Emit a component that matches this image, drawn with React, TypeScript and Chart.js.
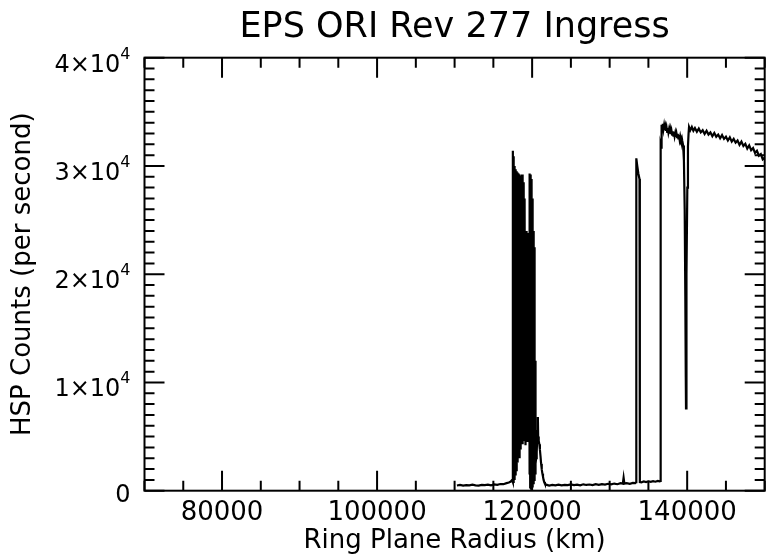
import React, { useEffect, useRef } from 'react';
import { Chart, registerables } from 'chart.js';

Chart.register(...registerables);

const FONT = 'DejaVu Sans';
const TITLE = 'EPS ORI Rev 277 Ingress';
const X_TITLE = 'Ring Plane Radius (km)';
const Y_TITLE = 'HSP Counts (per second)';

const X_MIN = 70000;
const X_MAX = 150000;
const X_TICKS = [80000, 100000, 120000, 140000];
const X_MAJOR_STEP = 20000;
const X_MINOR_STEP = 5000;
const Y_MIN = 0;
const Y_MAX = 40000;
const Y_STEP = 10000;
const Y_MINOR_STEP = 1000;
const Y_EXPONENT = 4;

// inner baseline (B ring, opaque)
const innerRadius = [110300, 110700, 111100, 111500, 111900, 112300, 112700, 113100, 113500, 113900, 114300, 114700, 115100, 115500, 115900, 116300, 116700, 117000, 117250, 117420];
const innerCounts = [480, 540, 470, 520, 490, 560, 500, 470, 540, 510, 560, 500, 580, 540, 620, 600, 700, 760, 850, 1000];

// Cassini division region, dense ringlet structure
const cassiniRadius = [
  117500, 117530, 117560, 117590, 117620, 117650, 117680, 117710, 117740, 117770,
  117800, 117830, 117860, 117890, 117920, 117950, 117980, 118010, 118040, 118070,
  118100, 118130, 118160, 118190, 118220, 118250, 118280, 118310, 118340, 118370,
  118400, 118430, 118460, 118490, 118520, 118550, 118580, 118610, 118640, 118670,
  118700, 118730, 118760, 118790, 118820, 118850, 118880, 118910, 118940, 118970,
  119000, 119030, 119060, 119090, 119120, 119150, 119180, 119210, 119240, 119270,
  119300, 119330, 119360, 119390, 119420, 119450, 119480, 119510, 119540, 119570,
  119600, 119630, 119660, 119690, 119720, 119750, 119780, 119810, 119840, 119870,
  119900, 119930, 119960, 119990, 120020, 120050, 120080, 120110, 120140, 120170,
  120200, 120230, 120260, 120290, 120320, 120350, 120380, 120410, 120440, 120470,
  120520, 120560, 120620, 120680, 120740, 120780, 120850, 120930, 121000, 121080,
  121160, 121240, 121320, 121400, 121480, 121560, 121650, 121750, 121900,
];
const cassiniCounts = [
  31400, 800, 30900, 1200, 30400, 700, 30000, 1500, 29800, 1000,
  29700, 2000, 29600, 1400, 29500, 2500, 29500, 1800, 29400, 3000,
  29400, 2600, 29300, 3200, 29300, 3800, 29300, 3100, 29200, 4500,
  29200, 3500, 28500, 4200, 29000, 3800, 29100, 5000, 28000, 4400,
  29200, 6000, 27500, 4300, 29000, 5200, 26000, 4800, 28500, 8000,
  24000, 4600, 27000, 5500, 22000, 4200, 23800, 6000, 23500, 12000,
  24000, 5000, 20000, 9000, 23000, 4500, 18000, 7000, 23800, 5500,
  21000, 10000, 23500, 1500, 29300, 300, 29200, 800, 29000, 200,
  28800, 1000, 28500, 400, 27000, 1500, 25000, 800, 24000, 1200,
  23000, 600, 22500, 2000, 18000, 900, 12000, 1500, 8000, 2500,
  3000, 4500, 3500, 5500, 6800, 5000, 4600, 4300, 3800, 3200,
  2500, 2000, 1600, 1300, 1000, 800, 650, 600, 540,
];

// inner A ring baseline
const aRingRadius = [122200, 122600, 123000, 123400, 123800, 124200, 124600, 125000, 125400, 125800, 126200, 126600, 127000, 127400, 127800, 128200, 128600, 129000, 129400, 129800, 130200, 130600, 131000, 131400, 131700, 131800, 131900, 132200, 132600, 133000, 133300, 133420];
const aRingCounts = [480, 530, 500, 560, 490, 540, 510, 580, 520, 560, 500, 590, 530, 570, 520, 600, 540, 610, 560, 640, 580, 660, 600, 700, 650, 1200, 650, 700, 640, 720, 700, 800];

// Encke gap spike and outer A ring baseline
const enckeRadius = [133440, 133560, 133700, 133850, 133880, 133910, 134100, 134400, 134700, 135000, 135300, 135600, 135900, 136200, 136450, 136560];
const enckeCounts = [30700, 30000, 29300, 28800, 28600, 800, 780, 850, 800, 870, 820, 880, 830, 900, 860, 900];

// beyond the A ring edge: F ring dip and free stellar signal
const outerRadius = [
  136580, 136640, 136700, 136780, 136860, 136940, 137020, 137100, 137180, 137260,
  137340, 137420, 137500, 137580, 137660, 137740, 137820, 137900, 137980, 138060,
  138140, 138220, 138300, 138380, 138460, 138540, 138620, 138700, 138780, 138860,
  138940, 139020, 139100, 139200, 139300, 139370, 139480, 139580, 139680, 139760,
  139820, 139850, 139880, 139940, 140020, 140100, 140180, 140240, 140400, 140600,
  140800, 141000, 141250, 141500, 141750, 142000, 142250, 142500, 142750, 143000,
  143250, 143500, 143750, 144000, 144250, 144500, 144750, 145000, 145250, 145500,
  145750, 146000, 146250, 146500, 146750, 147000, 147250, 147500, 147750, 148000,
  148250, 148500, 148750, 149000, 149250, 149500, 149750, 150000,
];
const outerCounts = [
  31900, 31700, 33800, 33500, 33900, 33400, 33750, 33350, 33650, 33250,
  33550, 33150, 33500, 33100, 33400, 33000, 33350, 32950, 33250, 32900,
  33200, 32800, 33150, 32750, 33050, 32700, 33000, 32650, 32950, 32550,
  32850, 32450, 32750, 32400, 32600, 32300, 31900, 30500, 26000, 18000,
  10500, 7600, 10000, 20000, 28000, 31800, 33000, 33600, 33300, 33600,
  33250, 33500, 33150, 33450, 33100, 33300, 32950, 33250, 32900, 33100,
  32750, 33050, 32700, 32900, 32550, 32850, 32500, 32700, 32350, 32650,
  32250, 32500, 32150, 32350, 31950, 32250, 31850, 32050, 31600, 31900,
  31450, 31650, 31200, 31400, 30950, 31100, 30600, 30750,
];

const framePlugin = {
  id: 'idlFrame',
  afterDraw(chart: any) {
    const { ctx, chartArea } = chart;
    const { left, right, top, bottom } = chartArea;
    const xs = chart.scales.x;
    const ys = chart.scales.y;
    ctx.save();
    ctx.strokeStyle = '#000';
    ctx.lineWidth = 2;
    ctx.beginPath();
    for (let v = X_MIN; v <= X_MAX; v += X_MINOR_STEP) {
      const px = xs.getPixelForValue(v);
      const len = v % X_MAJOR_STEP === 0 ? 20 : 10;
      ctx.moveTo(px, bottom);
      ctx.lineTo(px, bottom - len);
      ctx.moveTo(px, top);
      ctx.lineTo(px, top + len);
    }
    for (let v = Y_MIN; v <= Y_MAX; v += Y_MINOR_STEP) {
      const py = ys.getPixelForValue(v);
      const len = v % Y_STEP === 0 ? 20 : 10;
      ctx.moveTo(left, py);
      ctx.lineTo(left + len, py);
      ctx.moveTo(right, py);
      ctx.lineTo(right - len, py);
    }
    ctx.stroke();
    ctx.strokeRect(left, top, right - left, bottom - top);

    ctx.fillStyle = '#000';
    // y tick labels in a×10^4 form with a real superscript
    const labelRight = left - 14;
    ys.ticks.forEach((t: any) => {
      const v = t.value;
      const py = ys.getPixelForValue(v);
      ctx.textAlign = 'right';
      ctx.textBaseline = 'alphabetic';
      if (v === 0) {
        ctx.font = `24px "${FONT}"`;
        ctx.fillText('0', labelRight, py + 11);
        return;
      }
      const sup = String(Y_EXPONENT);
      ctx.font = `16px "${FONT}"`;
      const supW = ctx.measureText(sup).width;
      ctx.fillText(sup, labelRight, py + 1);
      ctx.font = `24px "${FONT}"`;
      ctx.fillText(`${v / Math.pow(10, Y_EXPONENT)}×10`, labelRight - supW, py + 14);
    });

    // title, centred over the plot area
    ctx.font = `35px "${FONT}"`;
    ctx.textAlign = 'center';
    ctx.textBaseline = 'alphabetic';
    ctx.fillText(TITLE, (left + right) / 2, 37);
    ctx.restore();
  },
};

export default function App() {
  const ref = useRef<HTMLCanvasElement>(null);
  useEffect(() => {
    document.body.style.margin = '0';
    const radius = [...innerRadius, ...cassiniRadius, ...aRingRadius, ...enckeRadius, ...outerRadius];
    const counts = [...innerCounts, ...cassiniCounts, ...aRingCounts, ...enckeCounts, ...outerCounts];
    const points = radius.map((r, i) => ({ x: r, y: counts[i] }));
    Chart.defaults.color = '#000';
    const chart = new Chart(ref.current as HTMLCanvasElement, {
      type: 'line',
      data: {
        datasets: [
          {
            data: points,
            borderColor: '#000',
            borderWidth: 2.2,
            pointRadius: 0,
            tension: 0,
            fill: false,
          },
        ],
      },
      options: {
        responsive: false,
        animation: false,
        devicePixelRatio: 1,
        layout: { padding: { left: 0, right: 2.3, top: 57.7, bottom: 0 } },
        plugins: {
          legend: { display: false },
          tooltip: { enabled: false },
          title: { display: false },
        },
        scales: {
          x: {
            type: 'linear',
            min: X_MIN,
            max: X_MAX,
            grid: { display: false, drawTicks: false },
            border: { display: false },
            afterBuildTicks: (s: any) => {
              s.ticks = X_TICKS.map((v) => ({ value: v }));
            },
            afterFit: (s: any) => {
              s.height = 64.3;
            },
            ticks: {
              color: '#000',
              font: { family: FONT, size: 26 },
              padding: 7,
              maxRotation: 0,
              autoSkip: false,
              callback: (v: any) => String(v),
            },
            title: {
              display: true,
              text: X_TITLE,
              color: '#000',
              font: { family: FONT, size: 26 },
              padding: { top: 0, bottom: -2 },
            },
          },
          y: {
            type: 'linear',
            min: Y_MIN,
            max: Y_MAX,
            grid: { display: false, drawTicks: false },
            border: { display: false },
            afterFit: (s: any) => {
              s.width = 144.5;
            },
            ticks: {
              stepSize: Y_STEP,
              display: false,
            },
            title: {
              display: true,
              text: Y_TITLE,
              color: '#000',
              font: { family: FONT, size: 26 },
              padding: { top: 8, bottom: 0 },
            },
          },
        },
      },
      plugins: [framePlugin],
    });
    return () => chart.destroy();
  }, []);
  return (
    <div style={{ width: 767, height: 555 }}>
      <canvas ref={ref} width={767} height={555} style={{ display: 'block' }} />
    </div>
  );
}
